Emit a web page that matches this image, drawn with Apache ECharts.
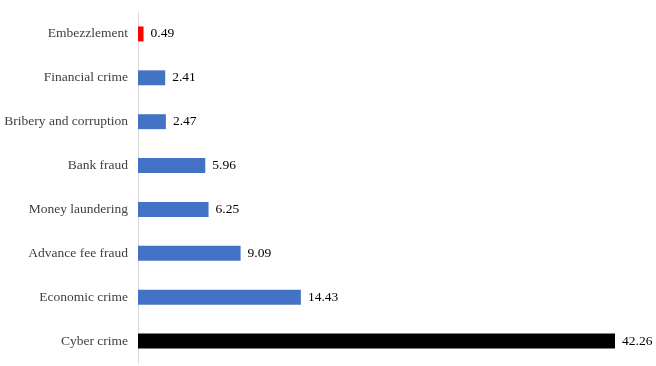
<!DOCTYPE html>
<html><head><meta charset="utf-8">
<script src="https://cdn.jsdelivr.net/npm/echarts@6/dist/echarts.min.js"></script>
<style>html,body{margin:0;padding:0;background:#fff}#c{width:656px;height:366px}</style>
</head><body><div id="c"></div>
<script>
const categories = ["Embezzlement","Financial crime","Bribery and corruption","Bank fraud","Money laundering","Advance fee fraud","Economic crime","Cyber crime"];
const values = [0.49, 2.41, 2.47, 5.96, 6.25, 9.09, 14.43, 42.26];
const barColors = ["#FF0000","#4472C4","#4472C4","#4472C4","#4472C4","#4472C4","#4472C4","#000000"];

const chart = echarts.init(document.getElementById('c'));
chart.setOption({
  animation: false,
  grid: {left: 138, right: 41, top: 12, bottom: 3, containLabel: false},
  xAxis: {type: 'value', min: 0, max: 42.26, show: false},
  yAxis: {
    type: 'category', data: categories, inverse: true,
    axisLine: {show: true, lineStyle: {color: '#D9D9D9', width: 1}},
    axisTick: {show: false},
    axisLabel: {color: '#404040', fontFamily: 'Liberation Serif', fontSize: 13.5, margin: 10}
  },
  series: [{
    type: 'bar', barWidth: '34%',
    data: values.map((v, i) => ({value: v, itemStyle: {color: barColors[i]}})),
    label: {show: true, position: 'right', distance: 7, color: '#000', fontFamily: 'Liberation Serif', fontSize: 13.5,
      formatter: p => p.value.toFixed(2)}
  }]
});
</script></body></html>
